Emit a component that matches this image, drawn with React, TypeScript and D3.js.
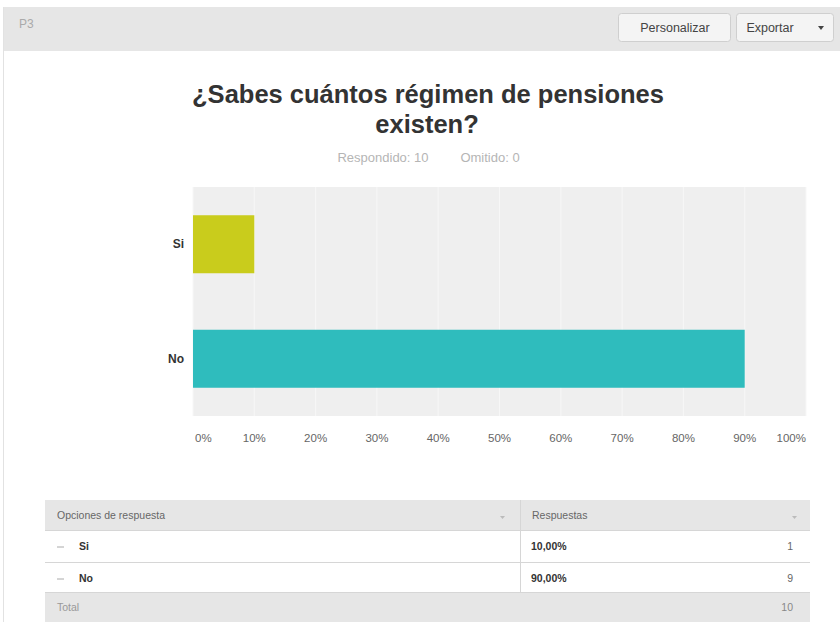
import React from "react";
import * as d3 from "d3";

const categories = ["Si", "No"];
const percentValues = [10, 90];
const counts = [1, 9];
const percentLabels = ["10,00%", "90,00%"];
const xTicks = [0, 10, 20, 30, 40, 50, 60, 70, 80, 90, 100];
const totalCount = 10;
const answered = 10;
const omitted = 0;
const barColors = ["#c9cc1c", "#2fbcbd"];

const W = 840;
const H = 622;
const plot = { left: 193, right: 806, top: 187, bottom: 416 };

export default function App() {
  const x = d3.scaleLinear().domain([0, 100]).range([plot.left, plot.right]);
  const yCenter = d3.scalePoint().domain(categories).range([plot.top, plot.bottom]).padding(0.5);
  const barH = 58;
  const font = "Arial, 'Liberation Sans', sans-serif";

  const tableLeft = 45;
  const tableRight = 810;
  const colDiv = 520;
  const rowTop = [500, 530, 562, 592];
  const rowH = [30, 32, 30, 30];

  return (
    <div style={{ position: "fixed", left: 0, top: 0, width: W, height: H, background: "#fff" }}>
      <svg width={W} height={H} style={{ display: "block", fontFamily: font }}>
        <rect x={0} y={0} width={W} height={H} fill="#fff" />
        {/* header */}
        <rect x={3} y={7} width={W - 3} height={44} fill="#e6e6e6" />
        <line x1={3.5} x2={3.5} y1={7} y2={H} stroke="#e2e2e2" />
        <text x={19} y={28} fontSize={12} fill="#aaa">P3</text>
        <rect x={618.5} y={13.5} width={112} height={28} rx={3} fill="#f4f4f4" stroke="#cfcfcf" />
        <text x={675} y={32} fontSize={12.5} fill="#444" textAnchor="middle">Personalizar</text>
        <rect x={736.5} y={13.5} width={97} height={28} rx={3} fill="#f4f4f4" stroke="#cfcfcf" />
        <text x={770} y={32} fontSize={12.5} fill="#444" textAnchor="middle">Exportar</text>
        <path d="M818,26 l6,0 l-3,4 z" fill="#444" />

        {/* title */}
        <text x={428} y={103} fontSize={25.5} fontWeight="bold" fill="#333" textAnchor="middle">
          ¿Sabes cuántos régimen de pensiones
        </text>
        <text x={427} y={133} fontSize={25.5} fontWeight="bold" fill="#333" textAnchor="middle">
          existen?
        </text>
        <text x={383} y={162} fontSize={13} fill="#b5b5b5" textAnchor="middle">
          {`Respondido: ${answered}`}
        </text>
        <text x={490} y={162} fontSize={13} fill="#b5b5b5" textAnchor="middle">
          {`Omitido: ${omitted}`}
        </text>

        {/* plot */}
        <rect x={plot.left} y={plot.top} width={plot.right - plot.left} height={plot.bottom - plot.top} fill="#efefef" />
        {xTicks.map((t) => (
          <line key={t} x1={x(t)} x2={x(t)} y1={plot.top} y2={plot.bottom} stroke="#f7f7f7" strokeWidth={1} />
        ))}
        {categories.map((c, i) => (
          <g key={c}>
            <rect
              x={x(0)}
              y={(yCenter(c) as number) - barH / 2}
              width={x(percentValues[i]) - x(0)}
              height={barH}
              fill={barColors[i]}
            />
            <text
              x={plot.left - 9}
              y={(yCenter(c) as number) + 4}
              fontSize={12}
              fontWeight="bold"
              fill="#333"
              textAnchor="end"
            >
              {c}
            </text>
          </g>
        ))}
        {xTicks.map((t, i) => (
          <text
            key={"l" + t}
            x={i === 0 ? x(t) + 2 : x(t)}
            y={442}
            fontSize={11.5}
            fill="#666"
            textAnchor={i === 0 ? "start" : i === xTicks.length - 1 ? "end" : "middle"}
          >
            {t}%
          </text>
        ))}

        {/* table */}
        <rect x={tableLeft} y={rowTop[0]} width={tableRight - tableLeft} height={rowH[0]} fill="#e6e6e6" />
        <rect x={tableLeft} y={rowTop[3]} width={tableRight - tableLeft} height={rowH[3]} fill="#e6e6e6" />
        <line x1={tableLeft} x2={tableRight} y1={rowTop[1] + 0.5} y2={rowTop[1] + 0.5} stroke="#d6d6d6" />
        <line x1={tableLeft} x2={tableRight} y1={rowTop[2] + 0.5} y2={rowTop[2] + 0.5} stroke="#d6d6d6" />
        <line x1={tableLeft} x2={tableRight} y1={rowTop[3] + 0.5} y2={rowTop[3] + 0.5} stroke="#d6d6d6" />
        <line x1={colDiv + 0.5} x2={colDiv + 0.5} y1={rowTop[0]} y2={rowTop[3]} stroke="#d6d6d6" />
        <text x={57} y={519} fontSize={10.5} fill="#666">Opciones de respuesta</text>
        <path d="M500,516 l5,0 l-2.5,3 z" fill="#bbb" />
        <text x={532} y={519} fontSize={10.5} fill="#666">Respuestas</text>
        <path d="M792,516 l5,0 l-2.5,3 z" fill="#bbb" />
        {categories.map((c, i) => (
          <g key={"row" + c}>
            <line x1={57} x2={64} y1={rowTop[i + 1] + 17} y2={rowTop[i + 1] + 17} stroke="#aaa" />
            <text x={79} y={rowTop[i + 1] + 20} fontSize={10.5} fontWeight="bold" fill="#333">{c}</text>
            <text x={531} y={rowTop[i + 1] + 20} fontSize={10.5} fontWeight="bold" fill="#333">{percentLabels[i]}</text>
            <text x={793} y={rowTop[i + 1] + 20} fontSize={10.5} fill="#666" textAnchor="end">{counts[i]}</text>
          </g>
        ))}
        <text x={57} y={611} fontSize={10.5} fill="#999">Total</text>
        <text x={793} y={611} fontSize={10.5} fill="#888" textAnchor="end">{totalCount}</text>
      </svg>
    </div>
  );
}
